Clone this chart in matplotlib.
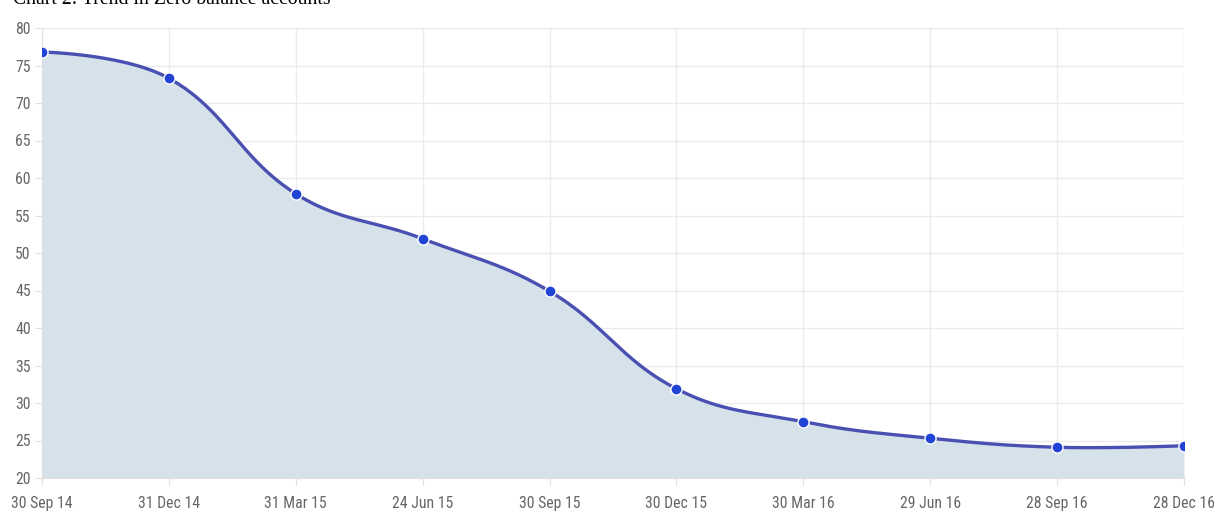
import numpy as np
import matplotlib
matplotlib.use("Agg")
import matplotlib.pyplot as plt
from matplotlib import font_manager

categories = ["30 Sep 14", "31 Dec 14", "31 Mar 15", "24 Jun 15", "30 Sep 15",
              "30 Dec 15", "30 Mar 16", "29 Jun 16", "28 Sep 16", "28 Dec 16"]
values = [76.8, 73.3, 57.9, 51.9, 44.9, 31.9, 27.5, 25.3, 24.1, 24.3]
yticks = [20, 25, 30, 35, 40, 45, 50, 55, 60, 65, 70, 75, 80]
title = "Chart 2: Trend in Zero balance accounts"

names = {f.name for f in font_manager.fontManager.ttflist}
if "Roboto Condensed" in names:
    tick_font = dict(family="Roboto Condensed", size=11.3)
elif "Liberation Sans Narrow" in names:
    tick_font = dict(family="Liberation Sans Narrow", size=11.5)
else:
    tick_font = dict(family="DejaVu Sans", stretch="condensed", size=10)

# axes geometry in pixels
L, R, T, B = 42, 1184, 28, 478
W, H = 1214, 514
YMIN, YMAX = 20, 80


def bezier_spline(vals, tension=0.4, n=50):
    """Chart.js-style cardinal bezier in pixel space; end points keep no handle."""
    sx = (R - L) / (len(vals) - 1)
    sy = (B - T) / (YMAX - YMIN)
    P = np.column_stack([np.arange(len(vals)) * sx, np.asarray(vals, float) * sy])
    cin, cout = [], []
    for i in range(len(P)):
        p1 = P[i]
        if i == 0 or i == len(P) - 1:
            cin.append(p1.copy()); cout.append(p1.copy())
            continue
        p0, p2 = P[i - 1], P[i + 1]
        d01 = np.hypot(*(p1 - p0)); d12 = np.hypot(*(p2 - p1))
        tot = d01 + d12
        cin.append(p1 - tension * d01 / tot * (p2 - p0))
        cout.append(p1 + tension * d12 / tot * (p2 - p0))
    xs, ys = [], []
    for i in range(len(P) - 1):
        t = np.linspace(0, 1, n, endpoint=(i == len(P) - 2))[:, None]
        c = ((1 - t) ** 3 * P[i] + 3 * (1 - t) ** 2 * t * cout[i]
             + 3 * (1 - t) * t ** 2 * cin[i + 1] + t ** 3 * P[i + 1])
        xs.append(c[:, 0] / sx); ys.append(c[:, 1] / sy)
    return np.concatenate(xs), np.concatenate(ys)


fig = plt.figure(figsize=(W / 100, H / 100), dpi=100)
ax = fig.add_axes([L / W, 1 - B / H, (R - L) / W, (B - T) / H])

xi = np.arange(len(categories))
xs, ys = bezier_spline(values)
ax.fill_between(xs, YMIN, ys, color="#d6e2e9", lw=0, zorder=1)
ax.plot(xs, ys, color="#4a50b2", lw=2.4, zorder=3, solid_capstyle="round")
ax.plot(xi, values, "o", ms=8, color="#2144d6", mec="white", mew=1.0, zorder=4)

ax.set_xlim(0, len(categories) - 1)
ax.set_ylim(YMIN, YMAX)
ax.set_xticks(xi)
ax.set_xticklabels(categories)
ax.set_yticks(yticks)
ax.grid(True, color="#ebebeb", lw=1)
ax.set_axisbelow(True)
for s in ["top", "right"]:
    ax.spines[s].set_visible(False)
ax.spines["left"].set_color("#e0e0e0")
ax.spines["bottom"].set_color("#e0e0e0")
ax.tick_params(axis="both", colors="#e0e0e0", length=5, labelcolor="#666666")
ax.tick_params(axis="y", pad=3)
ax.tick_params(axis="x", pad=8)
for lab in ax.get_xticklabels() + ax.get_yticklabels():
    lab.set_fontfamily(tick_font["family"])
    lab.set_fontsize(tick_font["size"])
    if "stretch" in tick_font:
        lab.set_fontstretch(tick_font["stretch"])

fig.text(13 / W, 1 - 4 / H, title, fontsize=14.2, family=["Liberation Serif", "DejaVu Serif"],
         ha="left", va="baseline", color="black")

fig.savefig("out.png", dpi=100)
